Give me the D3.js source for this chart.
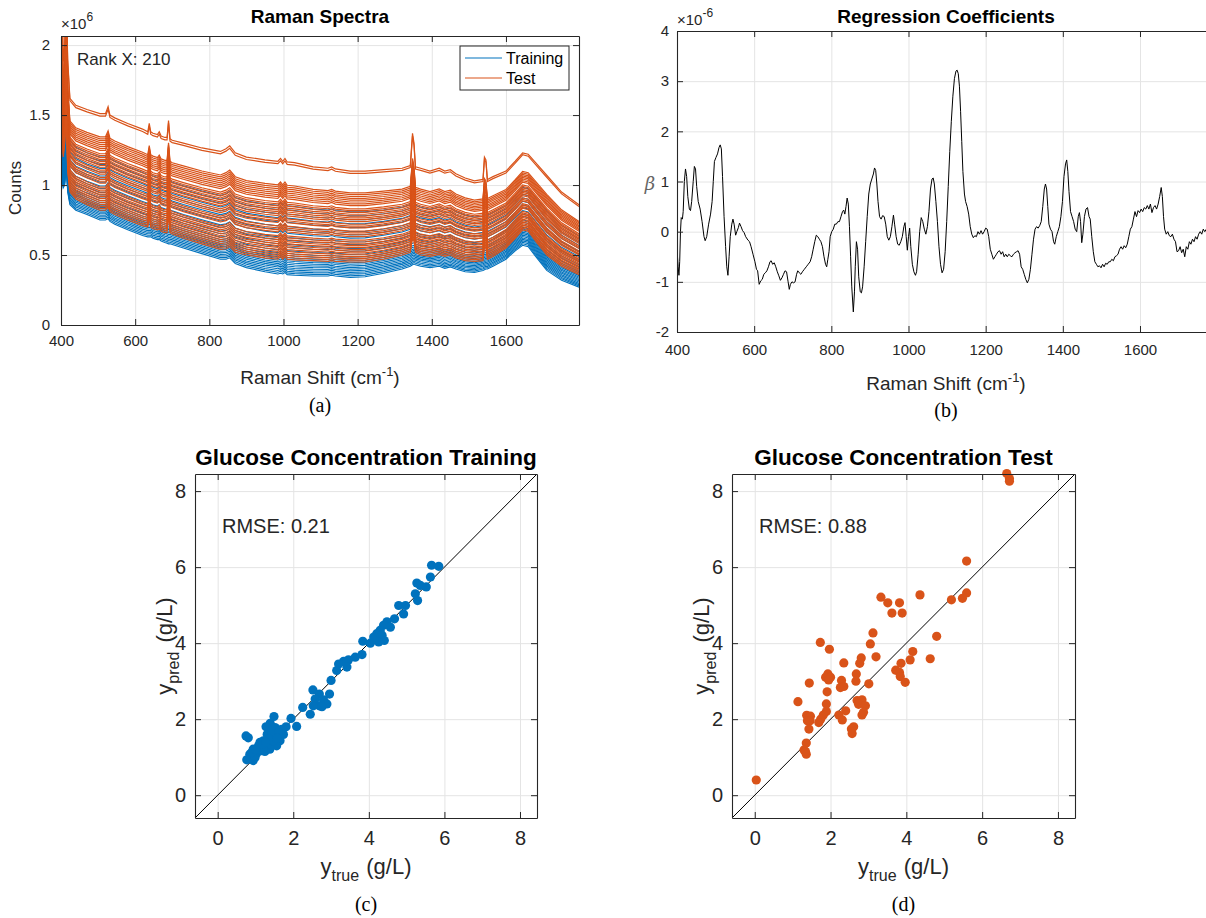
<!DOCTYPE html>
<html>
<head>
<meta charset="utf-8">
<script src="https://cdn.jsdelivr.net/npm/d3@7"></script>
<style>
body { margin: 0; background: #fff; }
svg { display: block; font-family: "Liberation Sans", Arial, sans-serif; }
text { white-space: pre; }
</style>
</head>
<body>
<svg id="chart" width="1206" height="918"></svg>
<script>
// ---------- data ----------
// wavenumber grid of the spectra (cm-1)
const wn = [400, 403, 406, 410, 414, 418, 424, 440, 470, 505, 520, 527, 532, 545, 580, 620, 634, 638, 642, 648, 660, 665, 670, 680, 686, 690, 694, 700, 730, 780, 830, 845, 855, 870, 900, 950, 985, 992, 998, 1004, 1010, 1030, 1080, 1120, 1130, 1140, 1180, 1220, 1270, 1320, 1342, 1348, 1352, 1356, 1370, 1395, 1420, 1435, 1450, 1465, 1490, 1515, 1538, 1542, 1546, 1550, 1565, 1600, 1625, 1645, 1660, 1680, 1710, 1750, 1797]
// lowest / highest training spectrum (x1e6 counts)
const trainLow = [0.95, 1.05, 0.98, 1.0, 1.15, 0.95, 0.86, 0.82, 0.79, 0.75, 0.75, 0.76, 0.74, 0.72, 0.68, 0.64, 0.63, 0.63, 0.63, 0.62, 0.61, 0.61, 0.6, 0.59, 0.585, 0.58, 0.58, 0.575, 0.55, 0.51, 0.47, 0.47, 0.48, 0.44, 0.41, 0.38, 0.365, 0.37, 0.365, 0.375, 0.36, 0.355, 0.35, 0.35, 0.355, 0.35, 0.34, 0.345, 0.37, 0.4, 0.42, 0.43, 0.435, 0.43, 0.42, 0.41, 0.42, 0.405, 0.415, 0.4, 0.38, 0.375, 0.39, 0.395, 0.4, 0.4, 0.42, 0.47, 0.53, 0.57, 0.56, 0.49, 0.39, 0.32, 0.27]
const trainHigh = [1.3, 1.5, 1.35, 1.4, 1.6, 1.4, 1.32, 1.27, 1.23, 1.2, 1.2, 1.236, 1.19, 1.17, 1.13, 1.09, 1.074, 1.074, 1.074, 1.064, 1.054, 1.07, 1.044, 1.034, 1.034, 1.03, 1.03, 1.02, 0.994, 0.957, 0.925, 0.938, 0.956, 0.91, 0.885, 0.865, 0.855, 0.875, 0.855, 0.875, 0.852, 0.847, 0.829, 0.821, 0.829, 0.818, 0.808, 0.808, 0.822, 0.841, 0.861, 0.87, 0.87, 0.855, 0.841, 0.826, 0.843, 0.826, 0.836, 0.81, 0.785, 0.771, 0.779, 0.78, 0.78, 0.784, 0.804, 0.853, 0.923, 0.983, 0.973, 0.908, 0.814, 0.712, 0.635]
// lowest / highest test spectrum (x1e6 counts)
const testLow = [1.0, 1.5, 1.2, 1.3, 1.6, 1.1, 0.95, 0.9, 0.86, 0.82, 0.82, 0.84, 0.81, 0.79, 0.75, 0.71, 0.7, 0.78, 0.7, 0.69, 0.68, 0.69, 0.67, 0.66, 0.66, 0.8, 0.66, 0.65, 0.62, 0.58, 0.54, 0.545, 0.56, 0.52, 0.5, 0.48, 0.47, 0.49, 0.47, 0.49, 0.47, 0.465, 0.46, 0.455, 0.46, 0.455, 0.45, 0.45, 0.47, 0.5, 0.52, 0.62, 0.6, 0.52, 0.5, 0.49, 0.505, 0.49, 0.5, 0.48, 0.46, 0.455, 0.46, 0.56, 0.55, 0.47, 0.49, 0.55, 0.62, 0.68, 0.67, 0.6, 0.5, 0.42, 0.36]
const testHigh = [1.9, 2.3, 1.9, 2.0, 2.4, 1.9, 1.62, 1.57, 1.54, 1.51, 1.51, 1.56, 1.5, 1.48, 1.44, 1.4, 1.38, 1.44, 1.38, 1.37, 1.36, 1.38, 1.35, 1.34, 1.34, 1.46, 1.33, 1.32, 1.3, 1.265, 1.24, 1.26, 1.28, 1.23, 1.2, 1.18, 1.17, 1.19, 1.17, 1.19, 1.165, 1.16, 1.13, 1.12, 1.13, 1.115, 1.1, 1.1, 1.11, 1.12, 1.14, 1.37, 1.3, 1.13, 1.12, 1.1, 1.12, 1.1, 1.11, 1.08, 1.05, 1.03, 1.04, 1.2, 1.18, 1.04, 1.06, 1.1, 1.17, 1.23, 1.22, 1.16, 1.07, 0.95, 0.86]
// relative level of every spectrum between its lowest and highest
const trainLevels = [0, 0.025, 0.05, 0.075, 0.1, 0.125, 0.15, 0.175, 0.2, 0.225, 0.25, 0.28, 0.31, 0.35, 0.4, 0.44, 0.5, 0.54, 0.6, 0.65, 0.7, 0.76, 0.82, 0.88, 0.94, 1.0]
const testLevels = [1.0, 0.975, 0.76, 0.74, 0.72, 0.7, 0.68, 0.66, 0.64, 0.62, 0.585, 0.565, 0.545, 0.525, 0.505, 0.485, 0.465, 0.445, 0.415, 0.395, 0.375, 0.34, 0.32, 0.3, 0.28, 0.24, 0.22, 0.2, 0.18, 0.16, 0.14, 0.12, 0.1, 0.08, 0.06, 0.04, 0.02, 0.0]

// regression coefficients (x1e-6)
const betaWn = [400, 403, 405, 407, 409, 411, 414, 416, 419, 422, 425, 428, 432, 435, 438, 442, 445, 448, 451, 455, 460, 465, 470, 473, 477, 482, 487, 491, 494, 497, 501, 505, 509, 512, 515, 518, 522, 526, 529, 532, 535, 538, 542, 545, 548, 552, 555, 559, 562, 566, 570, 574, 578, 584, 588, 592, 597, 602, 606, 609, 613, 617, 621, 625, 629, 633, 637, 641, 644, 648, 652, 656, 660, 664, 668, 672, 676, 680, 684, 688, 691, 694, 698, 702, 706, 710, 713, 717, 721, 725, 730, 735, 740, 745, 749, 753, 757, 761, 765, 769, 773, 777, 781, 785, 788, 791, 794, 797, 801, 805, 809, 813, 817, 821, 825, 829, 832, 835, 838, 841, 844, 847, 850, 853, 857, 860, 862, 865, 868, 871, 875, 878, 881, 885, 889, 893, 897, 901, 905, 909, 912, 915, 918, 921, 925, 929, 933, 937, 941, 945, 949, 953, 957, 961, 964, 968, 972, 976, 980, 984, 988, 991, 994, 997, 1000, 1003, 1006, 1010, 1014, 1018, 1021, 1025, 1029, 1033, 1037, 1041, 1045, 1049, 1053, 1057, 1061, 1064, 1067, 1071, 1075, 1079, 1083, 1087, 1091, 1095, 1099, 1103, 1107, 1111, 1115, 1119, 1123, 1126, 1129, 1132, 1135, 1138, 1141, 1145, 1148, 1152, 1156, 1160, 1164, 1168, 1172, 1176, 1180, 1184, 1188, 1192, 1196, 1200, 1204, 1208, 1212, 1216, 1220, 1224, 1228, 1232, 1236, 1240, 1244, 1248, 1252, 1256, 1260, 1264, 1268, 1272, 1276, 1280, 1284, 1288, 1292, 1296, 1300, 1304, 1308, 1312, 1316, 1320, 1324, 1328, 1332, 1336, 1340, 1344, 1348, 1352, 1355, 1358, 1361, 1364, 1368, 1372, 1376, 1379, 1383, 1387, 1391, 1395, 1399, 1403, 1407, 1410, 1413, 1416, 1420, 1424, 1428, 1432, 1436, 1440, 1443, 1446, 1449, 1452, 1456, 1460, 1464, 1468, 1471, 1475, 1479, 1483, 1487, 1491, 1495, 1499, 1503, 1507, 1511, 1515, 1519, 1523, 1527, 1531, 1535, 1539, 1543, 1547, 1551, 1555, 1559, 1563, 1567, 1571, 1575, 1579, 1583, 1587, 1591, 1595, 1599, 1603, 1607, 1611, 1615, 1619, 1623, 1627, 1631, 1635, 1639, 1643, 1647, 1651, 1655, 1658, 1661, 1664, 1668, 1672, 1676, 1680, 1684, 1688, 1692, 1696, 1700, 1704, 1708, 1712, 1716, 1720, 1724, 1728, 1732, 1736, 1740, 1744, 1748, 1752, 1756, 1760, 1764, 1768, 1772, 1776, 1780]
const betaVal = [-0.35, -0.7, -0.87, -0.6, 0.0, 0.28, 0.25, 0.4, 1.0, 1.25, 1.1, 0.7, 0.45, 0.42, 0.6, 1.0, 1.3, 1.25, 0.9, 0.6, 0.45, 0.2, -0.1, -0.18, -0.1, 0.15, 0.35, 0.6, 1.0, 1.4, 1.48, 1.55, 1.68, 1.73, 1.65, 1.1, 0.3, -0.3, -0.7, -0.87, -0.5, -0.1, 0.15, 0.25, 0.15, -0.07, 0.0, 0.08, 0.17, 0.1, 0.02, -0.02, -0.1, -0.17, -0.2, -0.3, -0.45, -0.6, -0.75, -0.78, -1.05, -0.98, -0.95, -0.85, -0.82, -0.78, -0.7, -0.6, -0.58, -0.65, -0.62, -0.7, -0.8, -0.88, -0.97, -0.92, -0.85, -0.78, -0.8, -1.0, -1.15, -1.05, -1.0, -1.02, -1.0, -0.85, -0.78, -0.82, -0.85, -0.8, -0.75, -0.7, -0.65, -0.6, -0.5, -0.35, -0.2, -0.07, -0.1, -0.15, -0.2, -0.3, -0.5, -0.65, -0.7, -0.55, -0.4, -0.1, 0.0, 0.05, 0.15, 0.15, 0.2, 0.2, 0.3, 0.4, 0.43, 0.35, 0.5, 0.67, 0.55, 0.1, -0.5, -1.1, -1.6, -1.2, -0.7, -0.2, -0.35, -0.9, -1.2, -1.22, -1.1, -0.7, -0.2, 0.3, 0.75, 0.95, 1.05, 1.15, 1.27, 1.22, 0.95, 0.6, 0.3, 0.25, 0.32, 0.3, 0.15, -0.1, -0.17, -0.1, 0.1, 0.33, 0.15, -0.1, -0.25, -0.27, -0.2, -0.1, 0.1, 0.18, -0.1, -0.37, -0.1, 0.07, -0.3, -0.65, -0.8, -0.87, -0.8, -0.45, 0.0, 0.28, 0.2, 0.05, -0.05, 0.1, 0.4, 0.85, 1.05, 1.07, 0.95, 0.6, 0.2, -0.3, -0.65, -0.82, -0.75, -0.4, 0.2, 0.9, 1.6, 2.2, 2.7, 3.05, 3.2, 3.22, 3.15, 2.9, 2.4, 1.8, 1.2, 0.75, 0.6, 0.5, 0.35, 0.1, -0.05, -0.12, -0.08, -0.1, 0.0, -0.05, 0.02, -0.05, 0.0, 0.07, 0.05, -0.1, -0.35, -0.45, -0.55, -0.5, -0.45, -0.4, -0.38, -0.45, -0.4, -0.5, -0.45, -0.5, -0.45, -0.48, -0.5, -0.45, -0.42, -0.4, -0.38, -0.45, -0.7, -0.75, -0.85, -0.95, -1.02, -0.95, -0.75, -0.45, -0.15, 0.05, 0.1, 0.07, 0.12, 0.2, 0.5, 0.85, 0.95, 0.85, 0.5, 0.15, 0.05, 0.0, -0.2, -0.25, -0.1, 0.0, 0.1, 0.3, 0.6, 1.1, 1.35, 1.43, 1.2, 0.8, 0.4, 0.3, 0.2, 0.05, 0.0, 0.3, 0.38, 0.2, -0.22, -0.05, 0.3, 0.45, 0.48, 0.3, 0.25, -0.1, -0.4, -0.6, -0.65, -0.7, -0.68, -0.72, -0.65, -0.7, -0.63, -0.65, -0.6, -0.6, -0.55, -0.58, -0.5, -0.48, -0.45, -0.35, -0.3, -0.35, -0.28, -0.32, -0.25, -0.1, 0.05, 0.1, 0.25, 0.4, 0.3, 0.42, 0.38, 0.45, 0.4, 0.48, 0.45, 0.52, 0.45, 0.55, 0.38, 0.48, 0.52, 0.45, 0.55, 0.7, 0.88, 0.7, 0.3, 0.05, -0.05, 0.0, -0.08, -0.1, -0.05, -0.15, -0.2, -0.4, -0.38, -0.3, -0.42, -0.35, -0.5, -0.3, -0.35, -0.2, -0.25, -0.15, -0.2, -0.1, -0.15, -0.05, 0.0, -0.05, 0.05, 0.0, 0.05, 0.1, 0.1]

// glucose concentration (g/L): true vs predicted
const trainTrue = [5.66, 5.85, 5.63, 5.27, 5.36, 5.52, 5.23, 5.29, 4.79, 4.97, 4.92, 4.68, 4.48, 4.39, 4.57, 4.30, 4.21, 4.35, 4.13, 4.41, 4.26, 3.84, 4.04, 4.14, 3.82, 3.64, 3.46, 3.33, 3.20, 3.42, 3.15, 3.00, 2.52, 2.69, 2.96, 2.58, 2.80, 2.89, 2.69, 2.53, 2.25, 2.45, 2.76, 1.94, 2.09, 1.49, 1.39, 1.28, 1.81, 1.69, 1.56, 1.47, 0.75, 0.81, 1.38, 1.61, 1.21, 1.43, 1.65, 1.08, 1.30, 1.56, 0.94, 1.16, 1.38, 1.03, 0.85, 1.25, 0.77, 0.94, 1.47, 1.12, 1.52, 1.74, 1.21, 0.99, 0.90, 1.31, 1.43, 1.61, 1.00, 1.18, 1.35, 1.58, 1.27]
const trainPred = [6.05, 6.02, 5.74, 5.58, 5.52, 5.48, 5.30, 5.12, 4.99, 4.99, 4.77, 4.64, 4.56, 4.47, 4.42, 4.34, 4.25, 4.21, 4.16, 4.07, 4.03, 4.05, 4.00, 4.09, 3.70, 3.63, 3.56, 3.52, 3.45, 3.37, 3.28, 3.02, 2.77, 2.66, 2.66, 2.53, 2.51, 2.40, 2.35, 2.35, 2.31, 2.13, 2.33, 2.02, 1.81, 2.07, 1.89, 1.80, 1.80, 1.73, 1.66, 1.60, 1.56, 1.51, 1.51, 1.54, 1.43, 1.39, 1.43, 1.30, 1.30, 1.30, 1.21, 1.17, 1.21, 1.10, 1.08, 1.15, 0.93, 0.91, 1.43, 1.39, 1.78, 1.60, 1.26, 0.99, 1.12, 1.60, 1.69, 1.65, 1.20, 1.35, 1.48, 1.50, 1.40]
const testTrue = [5.59, 4.36, 3.33, 3.51, 3.82, 3.62, 3.89, 5.19, 5.48, 5.59, 4.80, 3.12, 3.05, 1.73, 1.97, 4.17, 4.63, 4.10, 3.86, 3.20, 2.81, 2.77, 2.35, 3.72, 3.82, 3.84, 3.97, 2.68, 2.67, 3.01, 1.93, 1.87, 2.00, 1.95, 2.29, 2.26, 2.35, 1.44, 1.91, 1.14, 1.89, 2.70, 2.83, 2.74, 2.92, 2.40, 1.89, 1.81, 1.74, 1.69, 1.37, 1.47, 1.39, 1.46, 2.22, 2.31, 2.87, 2.83, 2.61, 2.55, 2.57, 1.43, 1.36, 1.30, 1.36, 1.34, 0.04, 6.65, 6.72, 6.72]
const testPred = [6.16, 5.27, 5.21, 5.06, 5.06, 4.79, 4.79, 5.14, 5.18, 5.32, 4.18, 4.27, 3.98, 4.02, 3.84, 3.78, 3.59, 3.56, 3.47, 3.64, 3.61, 3.47, 3.48, 3.29, 3.23, 3.12, 2.97, 3.19, 3.00, 2.93, 3.19, 3.10, 3.10, 3.03, 3.02, 2.83, 2.86, 2.95, 2.72, 2.46, 2.40, 2.49, 2.51, 2.39, 2.35, 2.22, 2.20, 2.11, 2.00, 1.91, 2.10, 2.08, 1.96, 1.96, 2.11, 1.98, 2.18, 2.11, 1.80, 1.74, 1.62, 1.74, 1.37, 1.19, 1.08, 1.15, 0.40, 8.46, 8.33, 8.26]

const xTicksSpec = [400, 600, 800, 1000, 1200, 1400, 1600]
const yTicksSpec = [0, 0.5, 1, 1.5, 2]
const yTicksBeta = [-2, -1, 0, 1, 2, 3, 4]
const ticksConc = [0, 2, 4, 6, 8]

// ---------- setup ----------
const svg = d3.select('#chart')
const blue = '#0072BD'
const orange = '#D95319'
const axisColor = '#262626'
const gridColor = '#e4e4e4'

const pa = { l: 61, r: 579, t: 36, b: 325 }
const pb = { l: 677, r: 1216, t: 31, b: 332 }
const pc = { l: 195, r: 537, t: 474, b: 818 }
const pd = { l: 732, r: 1075, t: 474, b: 818 }

// grid lines + data layer + box with inward ticks on all four sides
const makeFrame = (p, x, y, xt, yt, fs, padX, padY) => {
	const g = svg.append('g')
	g.append('g').attr('transform', `translate(0,${p.b})`)
		.call(d3.axisBottom(x).tickValues(xt).tickSize(-(p.b - p.t)).tickFormat(''))
	g.append('g').attr('transform', `translate(${p.l},0)`)
		.call(d3.axisLeft(y).tickValues(yt).tickSize(-(p.r - p.l)).tickFormat(''))
	g.selectAll('.domain').remove()
	g.selectAll('.tick line').attr('stroke', gridColor)
	const data = svg.append('g')
	const box = svg.append('g')
	box.append('g').attr('transform', `translate(0,${p.b})`)
		.call(d3.axisBottom(x).tickValues(xt).tickSizeInner(-6).tickSizeOuter(0).tickPadding(padX).tickFormat(d => String(d)))
	box.append('g').attr('transform', `translate(0,${p.t})`)
		.call(d3.axisTop(x).tickValues(xt).tickSizeInner(-6).tickSizeOuter(0).tickFormat(''))
	box.append('g').attr('transform', `translate(${p.l},0)`)
		.call(d3.axisLeft(y).tickValues(yt).tickSizeInner(-6).tickSizeOuter(0).tickPadding(padY).tickFormat(d => String(d)))
	box.append('g').attr('transform', `translate(${p.r},0)`)
		.call(d3.axisRight(y).tickValues(yt).tickSizeInner(-6).tickSizeOuter(0).tickFormat(''))
	box.selectAll('.domain').attr('stroke', axisColor).attr('stroke-width', 1.1)
	box.selectAll('.tick line').attr('stroke', axisColor)
	box.selectAll('.tick text').attr('fill', axisColor).style('font-size', fs + 'px')
		.style('font-family', '"Liberation Sans", Arial, sans-serif')
	return data
}

const clip = (id, p) => {
	svg.append('clipPath').attr('id', id).append('rect')
		.attr('x', p.l).attr('y', p.t).attr('width', p.r - p.l).attr('height', p.b - p.t)
}

const label = (txt, x, y, size, opts = {}) => svg.append('text')
	.attr('x', x).attr('y', y)
	.attr('text-anchor', opts.anchor || 'middle')
	.attr('font-size', size)
	.attr('font-weight', opts.bold ? 'bold' : null)
	.attr('font-family', opts.serif ? '"Liberation Serif", "Times New Roman", serif' : null)
	.attr('fill', opts.color || (opts.serif ? '#000' : axisColor))
	.text(txt)

// ---------- (a) Raman spectra ----------
const xA = d3.scaleLinear().domain([400, 1797]).range([pa.l, pa.r])
const yA = d3.scaleLinear().domain([0, 2.065]).range([pa.b, pa.t])
const layerA = makeFrame(pa, xA, yA, xTicksSpec, yTicksSpec, 15, 10, 11)
clip('clipA', pa)
layerA.attr('clip-path', 'url(#clipA)')

const specLine = d3.line().x((d, i) => xA(wn[i])).y(d => yA(d))
const mix = (lo, hi, t) => lo.map((v, i) => v + t * (hi[i] - v))

layerA.selectAll('path.train')
	.data(trainLevels)
	.enter()
	.append('path')
		.attr('class', 'train')
		.attr('d', t => specLine(mix(trainLow, trainHigh, t)))
		.attr('fill', 'none')
		.attr('stroke', blue)
		.attr('stroke-width', 1.1)

layerA.selectAll('path.test')
	.data(testLevels)
	.enter()
	.append('path')
		.attr('class', 'test')
		.attr('d', t => specLine(mix(testLow, testHigh, t)))
		.attr('fill', 'none')
		.attr('stroke', orange)
		.attr('stroke-width', 1.2)

label('Raman Spectra', (pa.l + pa.r) / 2, 23, 19, { bold: true }).attr('fill', '#000')
label('Rank X: 210', 77, 65, 17, { anchor: 'start' })
const expA = label('×10', 61, 29, 15, { anchor: 'start' })
expA.append('tspan').attr('dy', -8).attr('font-size', 12).text('6')

const xlabA = label('Raman Shift (cm', (pa.l + pa.r) / 2, 384, 19)
xlabA.append('tspan').attr('dy', -8).attr('font-size', 13).text('-1')
xlabA.append('tspan').attr('dy', 8).text(')')
label('Counts', 0, 0, 17).attr('transform', `translate(21,188) rotate(-90)`)
label('(a)', (pa.l + pa.r) / 2, 412, 20, { serif: true })

// legend
const leg = svg.append('g')
leg.append('rect').attr('x', 460).attr('y', 46).attr('width', 109).attr('height', 44)
	.attr('fill', '#fff').attr('stroke', axisColor).attr('stroke-width', 1)
const legItems = [['Training', blue], ['Test', orange]]
legItems.forEach((it, i) => {
	leg.append('line').attr('x1', 465).attr('x2', 502).attr('y1', 58 + i * 20).attr('y2', 58 + i * 20)
		.attr('stroke', it[1]).attr('stroke-width', 1.2)
	leg.append('text').attr('x', 506).attr('y', 64 + i * 20).attr('font-size', 16)
		.attr('fill', '#000').text(it[0])
})

// ---------- (b) regression coefficients ----------
const xB = d3.scaleLinear().domain([400, 1797]).range([pb.l, pb.r])
const yB = d3.scaleLinear().domain([-2, 4]).range([pb.b, pb.t])
const layerB = makeFrame(pb, xB, yB, xTicksSpec, yTicksBeta, 15, 12, 8)
clip('clipB', pb)
layerB.attr('clip-path', 'url(#clipB)')

layerB.append('path')
	.attr('d', d3.line().x((d, i) => xB(betaWn[i])).y(d => yB(d))(betaVal))
	.attr('fill', 'none')
	.attr('stroke', '#000')
	.attr('stroke-width', 1)

label('Regression Coefficients', 946, 23, 19, { bold: true }).attr('fill', '#000')
const expB = label('×10', 677, 25, 15, { anchor: 'start' })
expB.append('tspan').attr('dy', -8).attr('font-size', 12).text('-6')
const xlabB = label('Raman Shift (cm', 946, 390, 19)
xlabB.append('tspan').attr('dy', -8).attr('font-size', 13).text('-1')
xlabB.append('tspan').attr('dy', 8).text(')')
label('β', 650, 190, 18, { color: '#666' }).attr('font-style', 'italic')
	.attr('font-family', '"DejaVu Serif", serif')
label('(b)', 946, 417, 20, { serif: true })

// ---------- (c) and (d) glucose scatter ----------
const scatterPanel = (p, xs, ys, color, title, rmse, tag) => {
	const x = d3.scaleLinear().domain([-0.6, 8.45]).range([p.l, p.r])
	const y = d3.scaleLinear().domain([-0.6, 8.45]).range([p.b, p.t])
	const layer = makeFrame(p, x, y, ticksConc, ticksConc, 20, 13, 9)
	layer.append('line')
		.attr('x1', x(-0.6)).attr('y1', y(-0.6))
		.attr('x2', x(8.45)).attr('y2', y(8.45))
		.attr('stroke', '#000').attr('stroke-width', 1)
	layer.selectAll('circle')
		.data(xs)
		.enter()
		.append('circle')
			.attr('cx', d => x(d))
			.attr('cy', (d, i) => y(ys[i]))
			.attr('r', 4.6)
			.attr('fill', color)
	const cx = (p.l + p.r) / 2
	label(title, cx, 465, 22.5, { bold: true }).attr('fill', '#000')
	label('RMSE: ' + rmse, p.l + 27, 533, 20, { anchor: 'start' })
	const xl = label('y', cx, 874, 22)
	xl.append('tspan').attr('dy', 7).attr('font-size', 16).text('true')
	xl.append('tspan').attr('dy', -7).attr('dx', 1).text('\u00a0(g/L)')
	const yl = label('y', 0, 0, 22).attr('transform', `translate(${p.l - 23},${(p.t + p.b) / 2}) rotate(-90)`)
	yl.append('tspan').attr('dy', 7).attr('font-size', 16).text('pred')
	yl.append('tspan').attr('dy', -7).attr('dx', 3).text('\u00a0(g/L)')
	label(tag, cx, 911, 20, { serif: true })
}

scatterPanel(pc, trainTrue, trainPred, blue, 'Glucose Concentration Training', '0.21', '(c)')
scatterPanel(pd, testTrue, testPred, orange, 'Glucose Concentration Test', '0.88', '(d)')
</script>
</body>
</html>
